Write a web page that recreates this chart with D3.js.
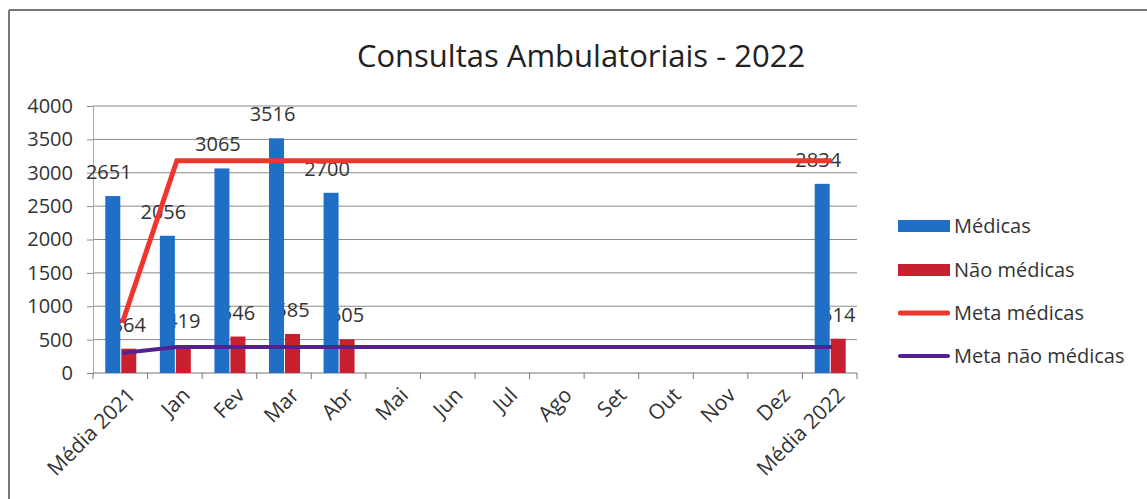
<!DOCTYPE html>
<html>
<head>
<meta charset="utf-8">
<script src="https://cdn.jsdelivr.net/npm/d3@7"></script>
<style>
  body { margin: 0; background: #fff; }
  text { font-family: "Open Sans", sans-serif; fill: #333; }
</style>
</head>
<body>
<script>
// Data
var categories = ["Média 2021", "Jan", "Fev", "Mar", "Abr", "Mai", "Jun", "Jul", "Ago", "Set", "Out", "Nov", "Dez", "Média 2022"];
var medicas = [2651, 2056, 3065, 3516, 2700, null, null, null, null, null, null, null, null, 2834];
var naoMedicas = [364, 419, 546, 585, 505, null, null, null, null, null, null, null, null, 514];
var metaMedicas = [750, 3180, 3180, 3180, 3180, 3180, 3180, 3180, 3180, 3180, 3180, 3180, 3180, 3180];
var metaNaoMedicas = [300, 390, 390, 390, 390, 390, 390, 390, 390, 390, 390, 390, 390, 390];
var yTicks = [0, 500, 1000, 1500, 2000, 2500, 3000, 3500, 4000];
var legendNames = ["Médicas", "Não médicas", "Meta médicas", "Meta não médicas"];

var width = 1147, height = 499;
var plot = {left: 93, right: 857, top: 106, bottom: 373};

var cBlue = "#1f6fc6", cRed = "#c8202f", cMeta = "#f0352c", cPurple = "#55208f";

var svg = d3.select("body").append("svg")
            .attr("width", width)
            .attr("height", height);

// scanned page border (top + left)
svg.append("line").attr("x1", 9).attr("x2", width).attr("y1", 10).attr("y2", 10)
   .attr("stroke", "#777").attr("stroke-width", 2);
svg.append("line").attr("x1", 9).attr("x2", 9).attr("y1", 10).attr("y2", height)
   .attr("stroke", "#777").attr("stroke-width", 2);

// Scales
var xScale = d3.scaleBand().domain(categories).range([plot.left, plot.right]).padding(0);
var yScale = d3.scaleLinear().domain([0, 4000]).range([plot.bottom, plot.top]);
var bw = xScale.bandwidth();
var cx = d => xScale(d) + bw / 2;

// Title
svg.append("text")
   .attr("x", 581)
   .attr("y", 67)
   .attr("text-anchor", "middle")
   .style("font-size", "31px")
   .style("fill", "#222")
   .text("Consultas Ambulatoriais - 2022");

// Gridlines
svg.append("g").selectAll("line")
   .data(yTicks.filter(t => t > 0))
   .enter().append("line")
   .attr("x1", plot.left).attr("x2", plot.right)
   .attr("y1", d => yScale(d)).attr("y2", d => yScale(d))
   .attr("stroke", "#8a8a8a").attr("stroke-width", 1);

// y axis
var yAxis = d3.axisLeft(yScale).tickValues(yTicks).tickFormat(d3.format("d")).tickSize(6).tickPadding(14);
var gy = svg.append("g")
            .attr("transform", "translate(" + plot.left + ",0)")
            .call(yAxis);
gy.select(".domain").attr("stroke", "#aaa");
gy.selectAll(".tick line").attr("stroke", "#888");
gy.selectAll("text").style("font-size", "20px").style("font-family", "Open Sans").attr("fill", "#333");

// x axis line and boundary ticks
svg.append("line")
   .attr("x1", plot.left).attr("x2", plot.right)
   .attr("y1", plot.bottom).attr("y2", plot.bottom)
   .attr("stroke", "#777");
svg.append("g").selectAll("line")
   .data(categories.concat(["end"]))
   .enter().append("line")
   .attr("x1", d => d === "end" ? plot.right : xScale(d))
   .attr("x2", d => d === "end" ? plot.right : xScale(d))
   .attr("y1", plot.bottom).attr("y2", plot.bottom + 6)
   .attr("stroke", "#777");

// rotated category labels
svg.append("g").selectAll("text")
   .data(categories)
   .enter().append("text")
   .attr("transform", d => "translate(" + (cx(d) + 6) + "," + (plot.bottom + 13) + ") rotate(-45)")
   .attr("text-anchor", "end")
   .attr("dy", "0.7em")
   .style("font-size", "21px")
   .text(d => d);

var rows = categories.map((c, i) => ({cat: c, med: medicas[i], nao: naoMedicas[i], meta: metaMedicas[i], metaNao: metaNaoMedicas[i]}));
var barW = 15;

// Labels of "Não médicas" sit under the blue bars in the original
svg.append("g").selectAll("text")
   .data(rows.filter(d => d.nao != null))
   .enter().append("text")
   .attr("x", d => cx(d.cat) + barW / 2 + 1)
   .attr("y", d => yScale(d.nao) - 17)
   .attr("text-anchor", "middle")
   .style("font-size", "20px")
   .text(d => d.nao);

// Bars
svg.append("g").selectAll("rect")
   .data(rows.filter(d => d.med != null))
   .enter().append("rect")
   .attr("x", d => cx(d.cat) - barW)
   .attr("y", d => yScale(d.med))
   .attr("width", barW)
   .attr("height", d => plot.bottom - yScale(d.med))
   .attr("fill", cBlue);

svg.append("g").selectAll("rect")
   .data(rows.filter(d => d.nao != null))
   .enter().append("rect")
   .attr("x", d => cx(d.cat) + 1)
   .attr("y", d => yScale(d.nao))
   .attr("width", barW)
   .attr("height", d => plot.bottom - yScale(d.nao))
   .attr("fill", cRed);

// Labels of "Médicas"
svg.append("g").selectAll("text")
   .data(rows.filter(d => d.med != null))
   .enter().append("text")
   .attr("x", d => cx(d.cat) - barW / 2 - 4)
   .attr("y", d => yScale(d.med) - 17)
   .attr("text-anchor", "middle")
   .style("font-size", "20px")
   .text(d => d.med);

// Target lines
var lineMeta = d3.line().x(d => cx(d.cat) + 2).y(d => yScale(d.meta));
var lineMetaNao = d3.line().x(d => cx(d.cat) + 2).y(d => yScale(d.metaNao));

svg.append("path")
   .attr("d", lineMetaNao(rows))
   .attr("fill", "none")
   .attr("stroke", cPurple)
   .attr("stroke-width", 4);

svg.append("path")
   .attr("d", lineMeta(rows))
   .attr("fill", "none")
   .attr("stroke", cMeta)
   .attr("stroke-width", 5);

// Legend
var legendY = [226, 270, 313, 356];
var legendColors = [cBlue, cRed, cMeta, cPurple];
var legend = svg.append("g").selectAll("g")
                .data(legendNames)
                .enter().append("g")
                .attr("transform", (d, i) => "translate(898," + legendY[i] + ")");

legend.append("rect")
      .attr("x", 0)
      .attr("y", (d, i) => i < 2 ? -6 : (i === 2 ? -2.5 : -2))
      .attr("width", 52)
      .attr("height", (d, i) => i < 2 ? 12 : (i === 2 ? 5 : 4))
      .attr("rx", (d, i) => i < 2 ? 0 : 2)
      .attr("fill", (d, i) => legendColors[i]);

legend.append("text")
      .attr("x", 56)
      .attr("dy", "0.36em")
      .style("font-size", "20px")
      .text(d => d);
</script>
</body>
</html>
